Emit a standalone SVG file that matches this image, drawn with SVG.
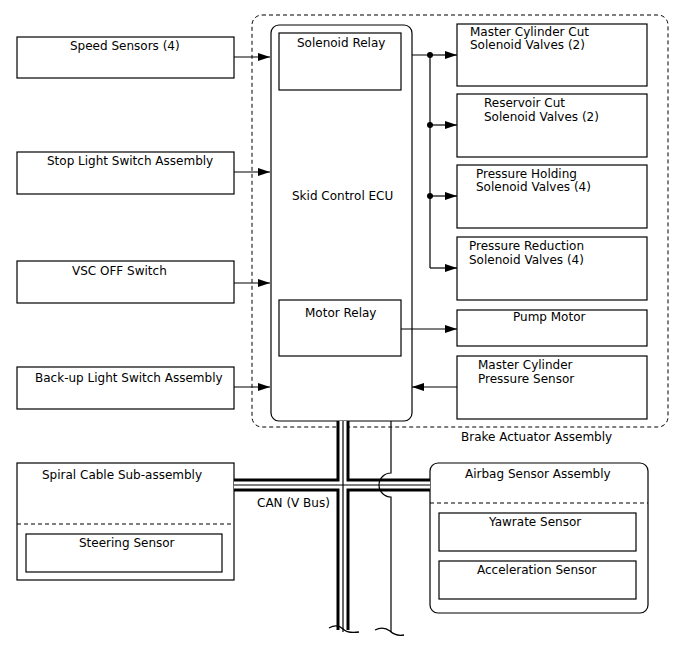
<svg xmlns="http://www.w3.org/2000/svg" width="688" height="658" viewBox="0 0 688 658">
<style>
text{font-family:"DejaVu Sans","Liberation Sans",sans-serif;font-size:12px;fill:#000}
.b{fill:#fff;stroke:#000;stroke-width:1.2}
.d{fill:none;stroke:#000;stroke-width:1;stroke-dasharray:4,3}
.c{fill:none;stroke:#000;stroke-width:1.2}
</style>
<defs>
<marker id="ah" markerWidth="12" markerHeight="8" refX="12" refY="4" orient="auto" markerUnits="userSpaceOnUse">
<path d="M0,0 L12,4 L0,8 Z" fill="#000"/>
</marker>
</defs>
<rect width="688" height="658" fill="#fff"/>
<g id="brake-actuator">
<rect x="252" y="15" width="416" height="412" rx="10" class="d"/>
<text x="461" y="441">Brake Actuator Assembly</text>
</g>
<g id="speed-sensors"><rect x="17" y="37" width="217" height="41" class="b"/><text x="70" y="50">Speed Sensors (4)</text></g>
<g id="stop-light"><rect x="17" y="152" width="217" height="42" class="b"/><text x="47" y="165">Stop Light Switch Assembly</text></g>
<g id="vsc-off"><rect x="17" y="261" width="217" height="42" class="b"/><text x="72" y="275">VSC OFF Switch</text></g>
<g id="backup-light"><rect x="17" y="367" width="217" height="42" class="b"/><text x="35" y="382">Back-up Light Switch Assembly</text></g>
<g id="ecu">
<rect x="271" y="25" width="141" height="396" rx="8" class="b"/>
<text x="292" y="200">Skid Control ECU</text>
</g>
<g id="solenoid-relay"><rect x="279" y="33" width="122" height="57" class="b"/><text x="297" y="47">Solenoid Relay</text></g>
<g id="motor-relay"><rect x="279" y="300" width="122" height="56" class="b"/><text x="305" y="317">Motor Relay</text></g>
<g id="mc-cut"><rect x="457" y="24" width="190" height="62" class="b"/><text x="470" y="36">Master Cylinder Cut</text><text x="470" y="49">Solenoid Valves (2)</text></g>
<g id="res-cut"><rect x="457" y="94" width="190" height="63" class="b"/><text x="484" y="107">Reservoir Cut</text><text x="484" y="121">Solenoid Valves (2)</text></g>
<g id="p-hold"><rect x="457" y="165" width="190" height="63" class="b"/><text x="476" y="178">Pressure Holding</text><text x="476" y="191">Solenoid Valves (4)</text></g>
<g id="p-red"><rect x="457" y="237" width="190" height="63" class="b"/><text x="469" y="250">Pressure Reduction</text><text x="469" y="264">Solenoid Valves (4)</text></g>
<g id="pump-motor"><rect x="457" y="310" width="190" height="36" class="b"/><text x="513" y="321">Pump Motor</text></g>
<g id="mc-pressure"><rect x="457" y="356" width="190" height="63" class="b"/><text x="478" y="369">Master Cylinder</text><text x="478" y="383">Pressure Sensor</text></g>
<g id="spiral-cable">
<rect x="17" y="463" width="217" height="117" class="b"/>
<text x="42" y="479">Spiral Cable Sub-assembly</text>
<line x1="17" y1="524" x2="234" y2="524" class="d"/>
</g>
<g id="steering-sensor"><rect x="26" y="534" width="196" height="38" class="b"/><text x="79" y="547">Steering Sensor</text></g>
<g id="airbag">
<rect x="430" y="463" width="218" height="150" rx="8" class="b"/>
<text x="465" y="478">Airbag Sensor Assembly</text>
<line x1="430" y1="503" x2="648" y2="503" class="d"/>
</g>
<g id="yawrate"><rect x="439" y="513" width="197" height="38" class="b"/><text x="489" y="526">Yawrate Sensor</text></g>
<g id="accel"><rect x="439" y="561" width="197" height="38" class="b"/><text x="477" y="574">Acceleration Sensor</text></g>
<g id="connectors">
<line x1="234" y1="57" x2="270" y2="57" class="c" marker-end="url(#ah)"/>
<line x1="234" y1="172" x2="270" y2="172" class="c" marker-end="url(#ah)"/>
<line x1="234" y1="283" x2="270" y2="283" class="c" marker-end="url(#ah)"/>
<line x1="234" y1="387" x2="270" y2="387" class="c" marker-end="url(#ah)"/>
<path d="M412,55 H430 V268" class="c"/>
<line x1="430" y1="55" x2="457" y2="55" class="c" marker-end="url(#ah)"/>
<line x1="430" y1="125" x2="457" y2="125" class="c" marker-end="url(#ah)"/>
<line x1="430" y1="196" x2="457" y2="196" class="c" marker-end="url(#ah)"/>
<line x1="430" y1="268" x2="457" y2="268" class="c" marker-end="url(#ah)"/>
<circle cx="430" cy="55" r="3"/>
<circle cx="430" cy="125" r="3"/>
<circle cx="430" cy="196" r="3"/>
<line x1="401" y1="329" x2="457" y2="329" class="c" marker-end="url(#ah)"/>
<line x1="457" y1="387" x2="412" y2="387" class="c" marker-end="url(#ah)"/>
<g fill="none">
<path d="M343,421 V630 M234,485 H430" stroke="#000" stroke-width="13"/>
<path d="M343,421 V633 M234,485 H430" stroke="#fff" stroke-width="7"/>
<path d="M343,421 V632 M234,485 H430" stroke="#000" stroke-width="1.2"/>
<path d="M391,421 V473 A12,12 0 0 0 391,497 V632" fill="none" stroke="#000" stroke-width="1.2"/>
<path d="M336,640 V632 M350,640 V632" stroke="#fff" stroke-width="0"/>
</g>
<path d="M329,628 C336,624 340,626 343,629 C347,633 352,633 359,632" fill="none" stroke="#000" stroke-width="1.3"/>
<path d="M375,630 C381,627 386,628 390,631 C394,635 398,636 404,635" fill="none" stroke="#000" stroke-width="1.3"/>
</g>
<text x="257" y="507">CAN (V Bus)</text>
</svg>
